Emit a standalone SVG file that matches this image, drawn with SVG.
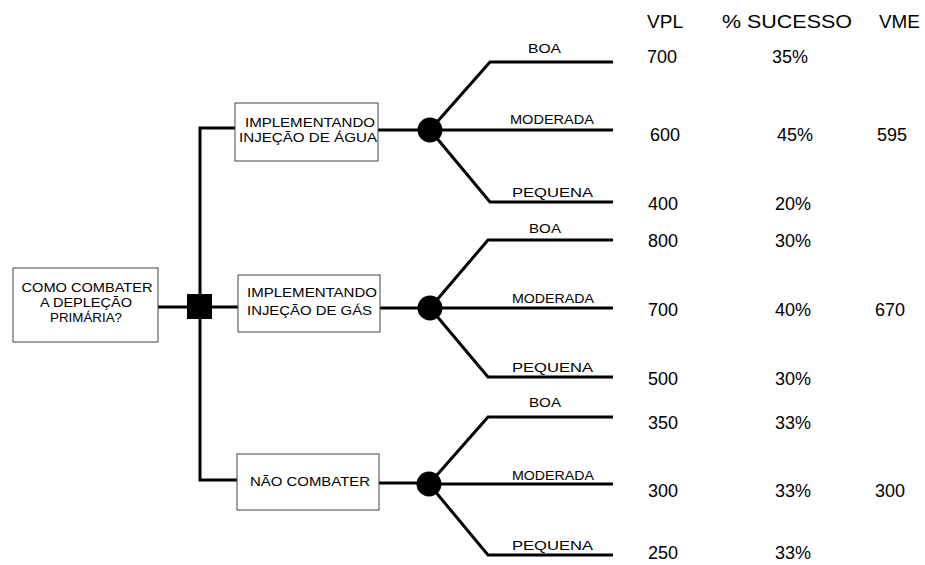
<svg xmlns="http://www.w3.org/2000/svg" width="925" height="565" viewBox="0 0 925 565">
<style>
.bg{fill:#fff}
.box{fill:#fff;stroke:#444;stroke-width:1}
.ln{fill:none;stroke:#000;stroke-width:3;stroke-linecap:butt;stroke-linejoin:miter}
.bt{font-family:"Liberation Sans",Arial,sans-serif;font-size:13px;fill:#000}
.lb{font-family:"Liberation Sans",Arial,sans-serif;font-size:13px;fill:#000}
.hd{font-family:"Liberation Sans",Arial,sans-serif;font-size:19px;fill:#000}
.vl{font-family:"Liberation Sans",Arial,sans-serif;font-size:18px;fill:#000}
</style>
<rect class="bg" x="0" y="0" width="925" height="565"/>
<g id="connectors">
<path class="ln" d="M158,307 H238"/>
<path class="ln" d="M235,128 H200 V480 H237"/>
<path class="ln" d="M378,130 H430"/>
<path class="ln" d="M380,308 H430"/>
<path class="ln" d="M379,483 H429"/>
<path class="ln" d="M430,130 L490,62 H613 M430,130 H613 M430,130 L490,202 H613"/>
<path class="ln" d="M430,308 L488,240 H613 M430,308 H613 M430,308 L488,377 H613"/>
<path class="ln" d="M429,484 L488,417 H613 M429,484 H613 M429,484 L488,555 H613"/>
</g>
<g id="root">
<rect class="box" x="13" y="268" width="145" height="74"/>
<text class="bt" x="87" y="292" text-anchor="middle" textLength="131" lengthAdjust="spacingAndGlyphs">COMO COMBATER</text>
<text class="bt" x="86" y="307" text-anchor="middle" textLength="92" lengthAdjust="spacingAndGlyphs">A DEPLEÇÃO</text>
<text class="bt" x="86" y="322" text-anchor="middle" textLength="72" lengthAdjust="spacingAndGlyphs">PRIMÁRIA?</text>
</g>
<g id="decision">
<rect x="187" y="294" width="25" height="25" fill="#000"/>
</g>
<g id="opt-agua">
<rect class="box" x="235" y="103" width="143" height="58"/>
<text class="bt" x="245" y="127" textLength="130" lengthAdjust="spacingAndGlyphs">IMPLEMENTANDO</text>
<text class="bt" x="239" y="142" textLength="138" lengthAdjust="spacingAndGlyphs">INJEÇÃO DE ÁGUA</text>
</g>
<g id="opt-gas">
<rect class="box" x="238" y="275" width="142" height="57"/>
<text class="bt" x="247" y="297" textLength="130" lengthAdjust="spacingAndGlyphs">IMPLEMENTANDO</text>
<text class="bt" x="247" y="315" textLength="125" lengthAdjust="spacingAndGlyphs">INJEÇÃO DE GÁS</text>
</g>
<g id="opt-nao">
<rect class="box" x="237" y="454" width="142" height="56"/>
<text class="bt" x="250" y="486" textLength="120" lengthAdjust="spacingAndGlyphs">NÃO COMBATER</text>
</g>
<g id="chance-agua">
<circle cx="430" cy="130" r="12.5" fill="#000"/>
<text class="lb" x="528" y="53" textLength="33" lengthAdjust="spacingAndGlyphs">BOA</text>
<text class="lb" x="510" y="124" textLength="84" lengthAdjust="spacingAndGlyphs">MODERADA</text>
<text class="lb" x="512" y="197" textLength="81" lengthAdjust="spacingAndGlyphs">PEQUENA</text>
</g>
<g id="chance-gas">
<circle cx="430" cy="308" r="12.5" fill="#000"/>
<text class="lb" x="529" y="233" textLength="32" lengthAdjust="spacingAndGlyphs">BOA</text>
<text class="lb" x="512" y="303" textLength="82" lengthAdjust="spacingAndGlyphs">MODERADA</text>
<text class="lb" x="512" y="372" textLength="81" lengthAdjust="spacingAndGlyphs">PEQUENA</text>
</g>
<g id="chance-nao">
<circle cx="429" cy="484" r="12.5" fill="#000"/>
<text class="lb" x="529" y="407" textLength="32" lengthAdjust="spacingAndGlyphs">BOA</text>
<text class="lb" x="512" y="480" textLength="82" lengthAdjust="spacingAndGlyphs">MODERADA</text>
<text class="lb" x="512" y="550" textLength="81" lengthAdjust="spacingAndGlyphs">PEQUENA</text>
</g>
<g id="table">
<text class="hd" x="647" y="28" textLength="36" lengthAdjust="spacingAndGlyphs">VPL</text>
<text class="hd" x="722" y="28" textLength="130" lengthAdjust="spacingAndGlyphs">% SUCESSO</text>
<text class="hd" x="879" y="28" textLength="41" lengthAdjust="spacingAndGlyphs">VME</text>
<text class="vl" x="647" y="63">700</text>
<text class="vl" x="772" y="63">35%</text>
<text class="vl" x="650" y="141">600</text>
<text class="vl" x="777" y="141">45%</text>
<text class="vl" x="877" y="141">595</text>
<text class="vl" x="648" y="210">400</text>
<text class="vl" x="775" y="210">20%</text>
<text class="vl" x="648" y="247">800</text>
<text class="vl" x="775" y="247">30%</text>
<text class="vl" x="648" y="316">700</text>
<text class="vl" x="775" y="316">40%</text>
<text class="vl" x="875" y="316">670</text>
<text class="vl" x="648" y="385">500</text>
<text class="vl" x="775" y="385">30%</text>
<text class="vl" x="648" y="429">350</text>
<text class="vl" x="775" y="429">33%</text>
<text class="vl" x="648" y="497">300</text>
<text class="vl" x="775" y="497">33%</text>
<text class="vl" x="875" y="497">300</text>
<text class="vl" x="648" y="559">250</text>
<text class="vl" x="775" y="559">33%</text>
</g>
</svg>
